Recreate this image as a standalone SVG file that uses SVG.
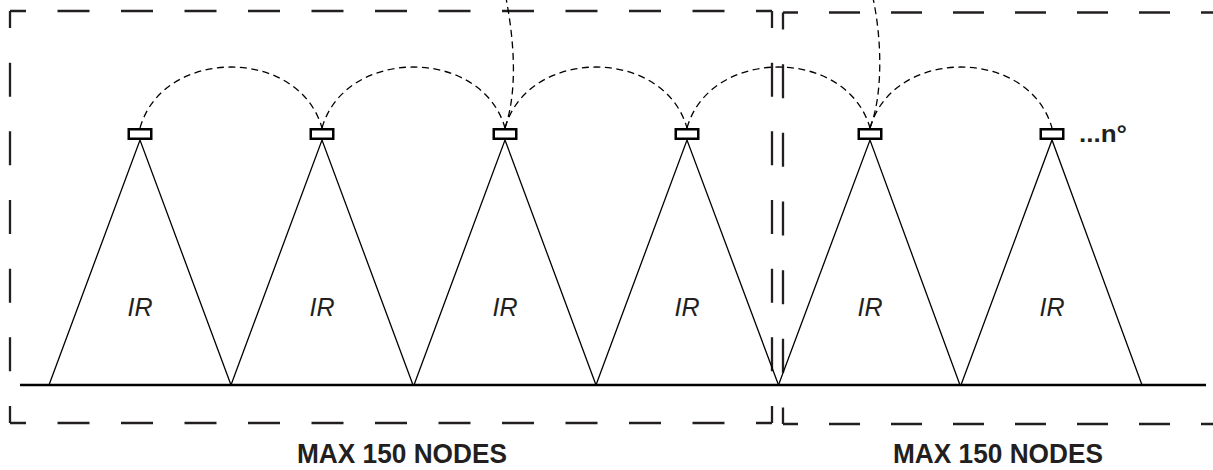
<svg xmlns="http://www.w3.org/2000/svg" width="1213" height="470" viewBox="0 0 1213 470">
<style>
.bg{fill:#ffffff}
.box{fill:none;stroke:#231f20;stroke-width:2.3}
.bh{stroke-dasharray:32 31.5;stroke-dashoffset:16}
.bh2{stroke-dasharray:31 31;stroke-dashoffset:16}
.bv{stroke-dasharray:34 34.67;stroke-dashoffset:17}
.ground{stroke:#000;stroke-width:2.5;fill:none}
.cone{fill:none;stroke:#000;stroke-width:1.3;stroke-linejoin:miter}
.sensor{fill:#fff;stroke:#000;stroke-width:2.5}
.link{fill:none;stroke:#000;stroke-width:1.3;stroke-dasharray:7 4.5}
.ir{font-family:"Liberation Sans",Arial,sans-serif;font-style:italic;font-size:25px;fill:#231f20;text-anchor:middle}
.lbl{font-family:"Liberation Sans",Arial,sans-serif;font-weight:bold;font-size:27.5px;fill:#231f20;text-anchor:middle}
.n{font-family:"Liberation Sans",Arial,sans-serif;font-weight:bold;font-size:24px;fill:#231f20}
</style>
<rect class="bg" x="0" y="0" width="1213" height="470"/>
<g id="group-left">
<line class="box bh" x1="10" y1="11" x2="772" y2="11"/>
<line class="box bh" x1="10" y1="423" x2="772" y2="423"/>
<line class="box bv" x1="10" y1="11" x2="10" y2="423"/>
<line class="box bv" x1="772" y1="11" x2="772" y2="423"/>
<text class="lbl" x="402" y="463" textLength="210" lengthAdjust="spacingAndGlyphs">MAX 150 NODES</text>
</g>
<g id="group-right">
<line class="box bh2" x1="783" y1="12.5" x2="1230" y2="12.5"/>
<line class="box bh2" x1="783" y1="424" x2="1230" y2="424"/>
<line class="box bv" x1="783" y1="12.5" x2="783" y2="424"/>
<text class="lbl" x="998" y="463" textLength="210" lengthAdjust="spacingAndGlyphs">MAX 150 NODES</text>
</g>
<line id="ground" class="ground" x1="20" y1="385" x2="1206" y2="385"/>
<g id="connectors">
<path class="link" d="M140,128 C163,46.7 299,46.7 322,128"/>
<path class="link" d="M322,128 C345,46.7 482,46.7 505,128"/>
<path class="link" d="M505,128 C528,46.7 664,46.7 687,128"/>
<path class="link" d="M687,128 C710,46.7 847,46.7 870,128"/>
<path class="link" d="M870,128 C893,46.7 1029,46.7 1052,128"/>
<path class="link" d="M505,128 C518,90 514,40 506,-2"/>
<path class="link" d="M870,128 C883,95 882,40 873,-2"/>
</g>
<g id="node-1">
<polyline class="cone" points="49,385 140,140 231,385"/>
<rect class="sensor" x="128.75" y="129.25" width="22.5" height="9.5"/>
<text class="ir" x="140" y="316">IR</text>
</g>
<g id="node-2">
<polyline class="cone" points="231,385 322,140 413,385"/>
<rect class="sensor" x="310.75" y="129.25" width="22.5" height="9.5"/>
<text class="ir" x="322" y="316">IR</text>
</g>
<g id="node-3">
<polyline class="cone" points="414,385 505,140 596,385"/>
<rect class="sensor" x="493.75" y="129.25" width="22.5" height="9.5"/>
<text class="ir" x="505" y="316">IR</text>
</g>
<g id="node-4">
<polyline class="cone" points="596,385 687,140 778.5,385"/>
<rect class="sensor" x="675.75" y="129.25" width="22.5" height="9.5"/>
<text class="ir" x="687" y="316">IR</text>
</g>
<g id="node-5">
<polyline class="cone" points="778.5,385 870,140 960,385"/>
<rect class="sensor" x="858.75" y="129.25" width="22.5" height="9.5"/>
<text class="ir" x="870" y="316">IR</text>
</g>
<g id="node-6">
<polyline class="cone" points="961,385 1052,140 1142,385"/>
<rect class="sensor" x="1040.75" y="129.25" width="22.5" height="9.5"/>
<text class="ir" x="1052" y="316">IR</text>
<text class="n" x="1079" y="141.5" textLength="48" lengthAdjust="spacingAndGlyphs">...n°</text>
</g>
</svg>
